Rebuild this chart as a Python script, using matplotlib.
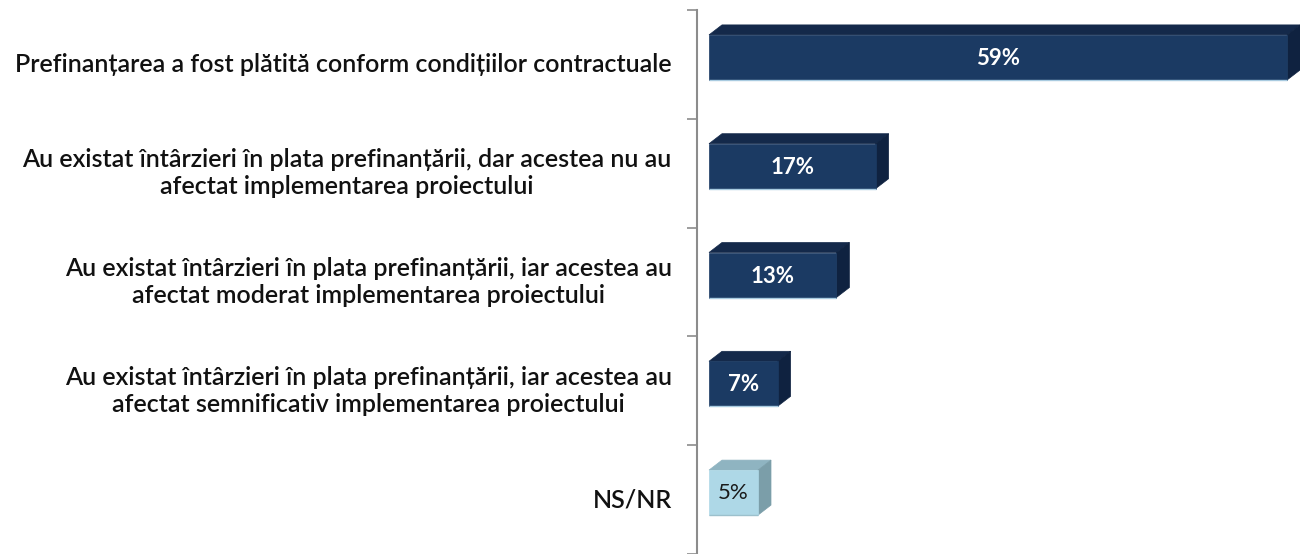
import matplotlib
matplotlib.use("Agg")
import matplotlib.pyplot as plt
from matplotlib.patches import Polygon

categories = [
    "Prefinanțarea a fost plătită conform condițiilor contractuale",
    "Au existat întârzieri în plata prefinanțării, dar acestea nu au\nafectat implementarea proiectului",
    "Au existat întârzieri în plata prefinanțării, iar acestea au\nafectat moderat implementarea proiectului",
    "Au existat întârzieri în plata prefinanțării, iar acestea au\nafectat semnificativ implementarea proiectului",
    "NS/NR",
]
values = [59, 17, 13, 7, 5]
value_labels = ["59%", "17%", "13%", "7%", "5%"]

W, H = 1300, 554
fig = plt.figure(figsize=(W / 100, H / 100), dpi=100)
fig.patch.set_facecolor("white")

ax_left_px, ax_top_px = 697, 10
ax = fig.add_axes([ax_left_px / W, 0, (W - ax_left_px) / W, (H - ax_top_px) / H])
px_per_unit = 9.8
x0_px = 709
ax.set_xlim(-(x0_px - ax_left_px) / px_per_unit, (W - x0_px) / px_per_unit)
ax.set_ylim(len(categories), 0)

ax_h_px = H - ax_top_px
py = len(categories) / ax_h_px  # data units per pixel (y)
px = 1 / px_per_unit           # data units per pixel (x)

depth_x, depth_y = 13 * px, 10 * py
bar_h = 45 * py
shift = -7 * py

dark = ("#1b3a63", "#14294a", "#0f2240")
light = ("#aed8e7", "#8fb4c1", "#7b9ea9")

for i, (v, lab) in enumerate(zip(values, value_labels)):
    is_light = i == len(values) - 1
    front, top, side = light if is_light else dark
    yc = i + 0.5 + shift
    y_top = yc - bar_h / 2
    y_bot = yc + bar_h / 2
    ax.barh(yc, v, height=bar_h, left=0, color=front, edgecolor=front,
            linewidth=0.5, zorder=3)
    ax.plot([0, v], [y_bot, y_bot], color="#a9cbe0" if not is_light else "#9cc0cc",
            lw=1.0, zorder=3.5, solid_capstyle="butt")
    ax.add_patch(Polygon([(0, y_top), (v, y_top), (v + depth_x, y_top - depth_y),
                          (depth_x, y_top - depth_y)], closed=True,
                         facecolor=top, edgecolor=top, linewidth=0.5, zorder=2))
    ax.add_patch(Polygon([(v, y_top), (v + depth_x, y_top - depth_y),
                          (v + depth_x, y_bot - depth_y), (v, y_bot)], closed=True,
                         facecolor=side, edgecolor=side, linewidth=0.5, zorder=2))
    if is_light:
        ax.text(v / 2, yc, lab, ha="center", va="center", fontsize=16,
                color="#1a1a1a", family="Lato", zorder=4)
    else:
        ax.text(v / 2, yc + 0.01, lab, ha="center", va="center", fontsize=16,
                color="white", fontweight="bold", family="Lato", zorder=4)

for i, cat in enumerate(categories):
    ax.text(-0.042, i + 0.5, cat, transform=ax.get_yaxis_transform(),
            ha="right", va="center", multialignment="center",
            fontsize=18, color="#111111", family="Lato", fontweight="semibold",
            linespacing=1.2)

ax.set_xticks([])
ax.set_yticks(range(len(categories) + 1))
ax.set_yticklabels([])
ax.tick_params(axis="y", direction="out", length=7, width=1.2, color="#8c8c8c")
for s in ["top", "right", "bottom"]:
    ax.spines[s].set_visible(False)
ax.spines["left"].set_color("#8c8c8c")
ax.spines["left"].set_linewidth(1.5)
ax.patch.set_alpha(0)

fig.savefig("out.png", dpi=100, facecolor="white")
